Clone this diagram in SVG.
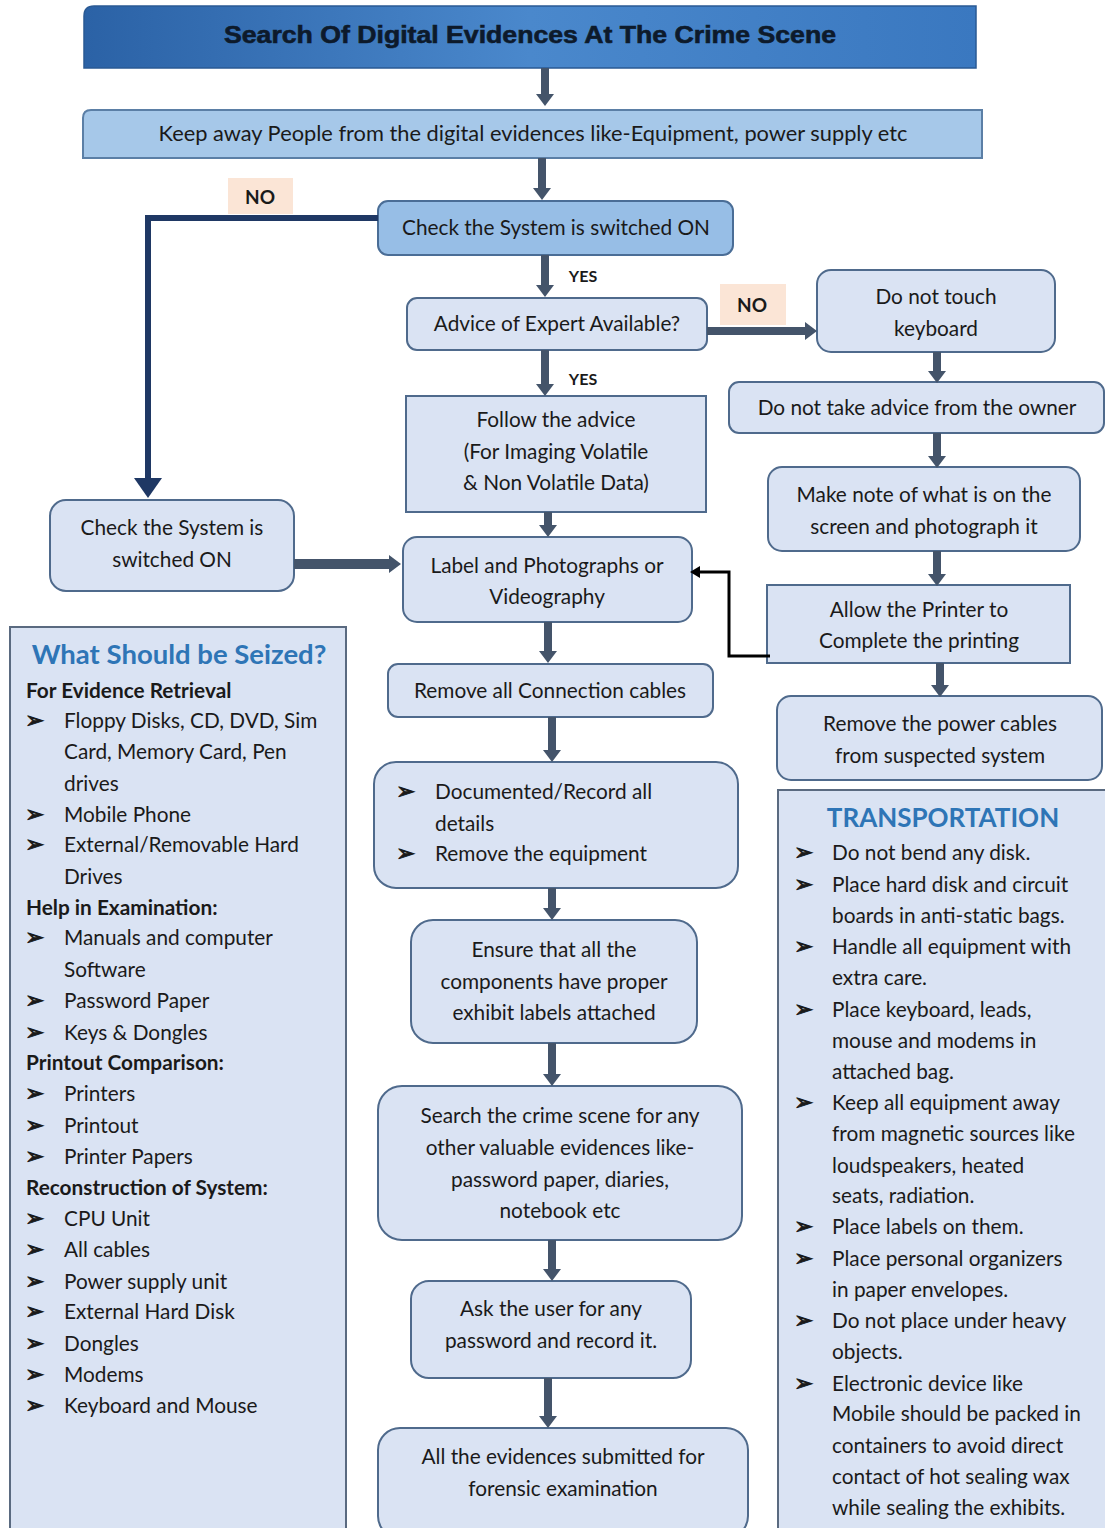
<svg xmlns="http://www.w3.org/2000/svg" width="1105" height="1528" viewBox="0 0 1105 1528">
<defs>
<linearGradient id="gTitle" x1="0" y1="0" x2="1" y2="0">
<stop offset="0" stop-color="#2b62a6"/>
<stop offset="0.5" stop-color="#4a88cc"/>
<stop offset="1" stop-color="#3a78c0"/>
</linearGradient>
<marker id="ah" markerUnits="userSpaceOnUse" markerWidth="12" markerHeight="20" viewBox="0 0 12 20" refX="0" refY="10" orient="auto">
<path d="M0,1 L12,10 L0,19 z" fill="#44546a"/>
</marker>
<marker id="ahNav" markerUnits="userSpaceOnUse" markerWidth="20" markerHeight="28" viewBox="0 0 20 28" refX="0" refY="14" orient="auto">
<path d="M0,0 L20,14 L0,28 z" fill="#1f3864"/>
</marker>
<marker id="ahBlk" markerUnits="userSpaceOnUse" markerWidth="10" markerHeight="12" viewBox="0 0 10 12" refX="0" refY="6" orient="auto">
<path d="M0,0 L10,6 L0,12 z" fill="#000"/>
</marker>
<style>
text{font-family:Lato,"Liberation Sans",sans-serif;fill:#1a1a1a;font-size:20.8px}
.c{text-anchor:middle}
.b{font-weight:bold}
.hd{font-weight:bold;fill:#2e75b6;font-size:26px}
.bul{font-family:"DejaVu Sans",sans-serif;font-size:23px;stroke:#1a1a1a;stroke-width:0.9}
.box{fill:#dae3f3;stroke:#4f6a8c;stroke-width:2}
.lab{fill:#fbe5d6}
.sm{font-weight:bold;font-size:16px}
.arr{stroke:#44546a;stroke-width:8;fill:none;marker-end:url(#ah)}
</style>
</defs>

<g id="title">
<path d="M94,6 H976 V68 H84 V16 Q84,6 94,6 z" fill="url(#gTitle)" stroke="#2a5a94" stroke-width="1.5"/>
<text x="530" y="43" class="c" style="font-family:'Liberation Sans',sans-serif;font-weight:bold;font-size:23px;fill:#0d1a2b;stroke:#0d1a2b;stroke-width:0.6" textLength="612" lengthAdjust="spacingAndGlyphs">Search Of Digital Evidences At The Crime Scene</text>
</g>

<g id="keepaway">
<path d="M91,110 H982 V158 H83 V118 Q83,110 91,110 z" fill="#a6c8e9" stroke="#5b7fa6" stroke-width="2"/>
<text x="533" y="141" class="c" style="font-size:21.8px">Keep away People from the digital evidences like-Equipment, power supply etc</text>
</g>

<g id="checkOn">
<rect x="378" y="201" width="355" height="54" rx="10" fill="#97bee6" stroke="#4a6d96" stroke-width="2"/>
<text x="556" y="235" class="c">Check the System is switched ON</text>
</g>

<g id="noLeft">
<rect x="228" y="178" width="65" height="36" class="lab"/>
<text x="260" y="204" class="c b" style="font-size:19px">NO</text>
</g>

<g id="yes1"><text x="583" y="282" class="c sm">YES</text></g>
<g id="yes2"><text x="583" y="385" class="c sm">YES</text></g>

<g id="advice">
<rect x="407" y="298" width="300" height="52" rx="10" class="box"/>
<text x="557" y="331" class="c">Advice of Expert Available?</text>
</g>

<g id="noRight">
<rect x="720" y="284" width="66" height="41" class="lab"/>
<text x="752" y="312" class="c b" style="font-size:19px">NO</text>
</g>

<g id="notouch">
<rect x="817" y="270" width="238" height="82" rx="14" class="box"/>
<text x="936" y="304" class="c">Do not touch</text>
<text x="936" y="336" class="c">keyboard</text>
</g>

<g id="noadvice">
<rect x="729" y="382" width="375" height="51" rx="10" class="box"/>
<text x="917" y="415" class="c">Do not take advice from the owner</text>
</g>

<g id="follow">
<rect x="406" y="396" width="300" height="116" class="box"/>
<text x="556" y="427" class="c">Follow the advice</text>
<text x="556" y="459" class="c">(For Imaging Volatile</text>
<text x="556" y="490" class="c">&amp; Non Volatile Data)</text>
</g>

<g id="makenote">
<rect x="768" y="467" width="312" height="84" rx="14" class="box"/>
<text x="924" y="502" class="c">Make note of what is on the</text>
<text x="924" y="534" class="c">screen and photograph it</text>
</g>

<g id="checkOn2">
<rect x="50" y="500" width="244" height="91" rx="16" class="box"/>
<text x="172" y="535" class="c">Check the System is</text>
<text x="172" y="567" class="c">switched ON</text>
</g>

<g id="labelPhoto">
<rect x="403" y="537" width="289" height="85" rx="14" class="box"/>
<text x="547" y="573" class="c">Label and Photographs or</text>
<text x="547" y="604" class="c">Videography</text>
</g>

<g id="printer">
<rect x="767" y="585" width="303" height="78" class="box"/>
<text x="919" y="617" class="c">Allow the Printer to</text>
<text x="919" y="648" class="c">Complete the printing</text>
</g>

<g id="removeCables">
<rect x="388" y="664" width="325" height="53" rx="10" class="box"/>
<text x="550" y="698" class="c">Remove all Connection cables</text>
</g>

<g id="powerCables">
<rect x="777" y="696" width="325" height="84" rx="14" class="box"/>
<text x="940" y="731" class="c">Remove the power cables</text>
<text x="940" y="763" class="c">from suspected system</text>
</g>

<g id="documented">
<rect x="374" y="762" width="364" height="126" rx="22" class="box"/>
<text x="396" y="799" class="bul">➢</text>
<text x="435" y="799">Documented/Record all</text>
<text x="435" y="831">details</text>
<text x="396" y="861" class="bul">➢</text>
<text x="435" y="861">Remove the equipment</text>
</g>

<g id="ensure">
<rect x="411" y="920" width="286" height="123" rx="22" class="box"/>
<text x="554" y="957" class="c">Ensure that all the</text>
<text x="554" y="989" class="c">components have proper</text>
<text x="554" y="1020" class="c">exhibit labels attached</text>
</g>

<g id="search">
<rect x="378" y="1086" width="364" height="154" rx="24" class="box"/>
<text x="560" y="1123" class="c">Search the crime scene for any</text>
<text x="560" y="1155" class="c">other valuable evidences like-</text>
<text x="560" y="1187" class="c">password paper, diaries,</text>
<text x="560" y="1218" class="c">notebook etc</text>
</g>

<g id="askuser">
<rect x="411" y="1281" width="280" height="97" rx="18" class="box"/>
<text x="551" y="1316" class="c">Ask the user for any</text>
<text x="551" y="1348" class="c">password and record it.</text>
</g>

<g id="submitted">
<rect x="378" y="1428" width="370" height="110" rx="22" class="box"/>
<text x="563" y="1464" class="c">All the evidences submitted for</text>
<text x="563" y="1496" class="c">forensic examination</text>
</g>

<g id="seized">
<rect x="10" y="627" width="336" height="910" fill="#dae3f3" stroke="#5a6a80" stroke-width="2"/>
<text x="179" y="664" class="c hd" style="font-size:27.5px">What Should be Seized?</text>
<text x="26" y="698" class="b">For Evidence Retrieval</text>
<text x="25" y="728" class="bul">➢</text><text x="64" y="728">Floppy Disks, CD, DVD, Sim</text>
<text x="64" y="759">Card, Memory Card, Pen</text>
<text x="64" y="791">drives</text>
<text x="25" y="822" class="bul">➢</text><text x="64" y="822">Mobile Phone</text>
<text x="25" y="852" class="bul">➢</text><text x="64" y="852">External/Removable Hard</text>
<text x="64" y="884">Drives</text>
<text x="26" y="915" class="b">Help in Examination:</text>
<text x="25" y="945" class="bul">➢</text><text x="64" y="945">Manuals and computer</text>
<text x="64" y="977">Software</text>
<text x="25" y="1008" class="bul">➢</text><text x="64" y="1008">Password Paper</text>
<text x="25" y="1040" class="bul">➢</text><text x="64" y="1040">Keys &amp; Dongles</text>
<text x="26" y="1070" class="b">Printout Comparison:</text>
<text x="25" y="1101" class="bul">➢</text><text x="64" y="1101">Printers</text>
<text x="25" y="1133" class="bul">➢</text><text x="64" y="1133">Printout</text>
<text x="25" y="1164" class="bul">➢</text><text x="64" y="1164">Printer Papers</text>
<text x="26" y="1195" class="b">Reconstruction of System:</text>
<text x="25" y="1226" class="bul">➢</text><text x="64" y="1226">CPU Unit</text>
<text x="25" y="1257" class="bul">➢</text><text x="64" y="1257">All cables</text>
<text x="25" y="1289" class="bul">➢</text><text x="64" y="1289">Power supply unit</text>
<text x="25" y="1319" class="bul">➢</text><text x="64" y="1319">External Hard Disk</text>
<text x="25" y="1351" class="bul">➢</text><text x="64" y="1351">Dongles</text>
<text x="25" y="1382" class="bul">➢</text><text x="64" y="1382">Modems</text>
<text x="25" y="1413" class="bul">➢</text><text x="64" y="1413">Keyboard and Mouse</text>
</g>

<g id="transport">
<rect x="778" y="790" width="336" height="750" fill="#dae3f3" stroke="#5a6a80" stroke-width="2"/>
<text x="943" y="827" class="c hd">TRANSPORTATION</text>
<text x="794" y="860" class="bul">➢</text><text x="832" y="860">Do not bend any disk.</text>
<text x="794" y="892" class="bul">➢</text><text x="832" y="892">Place hard disk and circuit</text>
<text x="832" y="923">boards in anti-static bags.</text>
<text x="794" y="954" class="bul">➢</text><text x="832" y="954">Handle all equipment with</text>
<text x="832" y="985">extra care.</text>
<text x="794" y="1017" class="bul">➢</text><text x="832" y="1017">Place keyboard, leads,</text>
<text x="832" y="1048">mouse and modems in</text>
<text x="832" y="1079">attached bag.</text>
<text x="794" y="1110" class="bul">➢</text><text x="832" y="1110">Keep all equipment away</text>
<text x="832" y="1141">from magnetic sources like</text>
<text x="832" y="1173">loudspeakers, heated</text>
<text x="832" y="1203">seats, radiation.</text>
<text x="794" y="1234" class="bul">➢</text><text x="832" y="1234">Place labels on them.</text>
<text x="794" y="1266" class="bul">➢</text><text x="832" y="1266">Place personal organizers</text>
<text x="832" y="1297">in paper envelopes.</text>
<text x="794" y="1328" class="bul">➢</text><text x="832" y="1328">Do not place under heavy</text>
<text x="832" y="1359">objects.</text>
<text x="794" y="1391" class="bul">➢</text><text x="832" y="1391">Electronic device like</text>
<text x="832" y="1421">Mobile should be packed in</text>
<text x="832" y="1453">containers to avoid direct</text>
<text x="832" y="1484">contact of hot sealing wax</text>
<text x="832" y="1515">while sealing the exhibits.</text>
</g>

<g id="connectors">
<line x1="545" y1="68" x2="545" y2="94" class="arr"/>
<line x1="542" y1="158" x2="542" y2="188" class="arr"/>
<line x1="545" y1="255" x2="545" y2="285" class="arr"/>
<line x1="545" y1="350" x2="545" y2="384" class="arr"/>
<line x1="548" y1="512" x2="548" y2="525" class="arr"/>
<line x1="937" y1="352" x2="937" y2="371" class="arr"/>
<line x1="937" y1="433" x2="937" y2="456" class="arr"/>
<line x1="937" y1="551" x2="937" y2="574" class="arr"/>
<line x1="940" y1="663" x2="940" y2="685" class="arr"/>
<line x1="548" y1="622" x2="548" y2="651" class="arr"/>
<line x1="552" y1="717" x2="552" y2="750" class="arr"/>
<line x1="552" y1="888" x2="552" y2="908" class="arr"/>
<line x1="552" y1="1043" x2="552" y2="1074" class="arr"/>
<line x1="552" y1="1240" x2="552" y2="1269" class="arr"/>
<line x1="548" y1="1378" x2="548" y2="1416" class="arr"/>
<line x1="294" y1="564" x2="389" y2="564" class="arr" style="stroke-width:10"/>
<line x1="707" y1="331" x2="805" y2="331" class="arr"/>
<path d="M378,218 H148 V478" fill="none" stroke="#1f3864" stroke-width="6" marker-end="url(#ahNav)"/>
<path d="M770,656 H729 V572 H700" fill="none" stroke="#000" stroke-width="3" marker-end="url(#ahBlk)"/>
</g>
</svg>
